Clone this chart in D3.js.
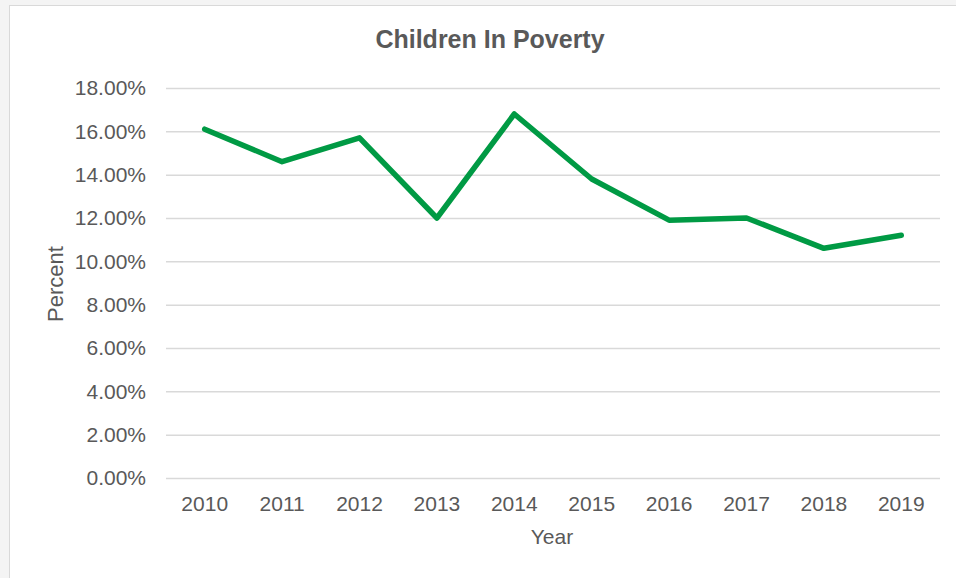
<!DOCTYPE html>
<html>
<head>
<meta charset="utf-8">
<script src="https://cdn.jsdelivr.net/npm/d3@7"></script>
<style>
  html, body { margin: 0; padding: 0; background: #f4f4f4; }
  #chart { width: 956px; height: 578px; }
  text { font-family: "Liberation Sans", Arial, sans-serif; fill: #595959; }
</style>
</head>
<body>
<div id="chart"></div>
<script>
  //-- DATA
  var years = ['2010', '2011', '2012', '2013', '2014', '2015', '2016', '2017', '2018', '2019'];
  var poverty = [0.161, 0.146, 0.157, 0.120, 0.168, 0.138, 0.119, 0.120, 0.106, 0.112];
  var yTicks = [0, 0.02, 0.04, 0.06, 0.08, 0.10, 0.12, 0.14, 0.16, 0.18];

  var svgWidth = 956, svgHeight = 578;
  var m = { top: 88, right: 16, bottom: 100, left: 166 };
  var width = 940 - m.left;
  var height = 478 - m.top;

  var svg = d3.select('#chart').append('svg')
    .attr('width', svgWidth)
    .attr('height', svgHeight);

  //-- FRAME
  svg.append('rect')
    .attr('x', 9.5).attr('y', 5.5)
    .attr('width', svgWidth).attr('height', svgHeight)
    .attr('fill', '#ffffff')
    .attr('stroke', '#d9d9d9')
    .attr('stroke-width', 1);

  var g = svg.append('g')
    .attr('transform', 'translate(' + m.left + ',' + m.top + ')');

  //-- SCALES
  var x = d3.scaleBand().domain(years).range([0, width]);
  var y = d3.scaleLinear().domain([0, 0.18]).range([height, 0]);

  //-- GRID
  g.append('g')
    .call(d3.axisLeft(y).tickValues(yTicks).tickSize(-width).tickFormat(''))
    .call(function(s) {
      s.select('.domain').remove();
      s.selectAll('line').attr('stroke', '#d9d9d9').attr('stroke-width', 1.5);
    });

  //-- Y AXIS LABELS
  g.append('g')
    .call(d3.axisLeft(y).tickValues(yTicks).tickSize(0).tickPadding(20)
      .tickFormat(function(d) { return (d * 100).toFixed(2) + '%'; }))
    .call(function(s) {
      s.select('.domain').remove();
      s.selectAll('text')
        .attr('font-size', 21)
        .attr('font-family', null)
        .attr('fill', '#595959');
    });

  //-- X AXIS LABELS
  g.append('g')
    .attr('transform', 'translate(0,' + height + ')')
    .call(d3.axisBottom(x).tickSize(0).tickPadding(18))
    .call(function(s) {
      s.select('.domain').remove();
      s.selectAll('text')
        .attr('font-size', 21)
        .attr('font-family', null)
        .attr('fill', '#595959');
    });

  //-- LINE
  var line = d3.line()
    .x(function(d, i) { return x(years[i]) + x.bandwidth() / 2; })
    .y(function(d) { return y(d); });

  g.append('path')
    .datum(poverty)
    .attr('d', line)
    .attr('fill', 'none')
    .attr('stroke', '#009a44')
    .attr('stroke-width', 5.5)
    .attr('stroke-linecap', 'round')
    .attr('stroke-linejoin', 'round');

  //-- TITLES
  svg.append('text')
    .attr('x', 490).attr('y', 48)
    .attr('text-anchor', 'middle')
    .attr('font-size', 25)
    .attr('font-weight', 'bold')
    .text('Children In Poverty');

  svg.append('text')
    .attr('x', 552).attr('y', 544)
    .attr('text-anchor', 'middle')
    .attr('font-size', 21)
    .text('Year');

  svg.append('text')
    .attr('transform', 'translate(63,284) rotate(-90)')
    .attr('text-anchor', 'middle')
    .attr('font-size', 22)
    .text('Percent');
</script>
</body>
</html>
